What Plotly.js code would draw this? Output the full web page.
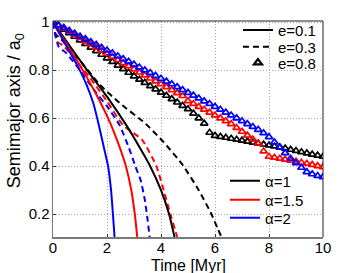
<!DOCTYPE html>
<html>
<head>
<meta charset="utf-8">
<script src="https://cdn.plot.ly/plotly-3.0.1.min.js"></script>
<style>html,body{margin:0;padding:0;background:#fff}#chart{width:358px;height:273px}</style>
</head>
<body>
<div id="chart"></div>
<script>
// ---- data ----
// e = 0.1 (solid)
const t_a1_e01 = [0, 0.5, 1.2, 2.0, 2.72, 3.2, 3.6, 4.0, 4.3, 4.5];
const a_a1_e01 = [1.0, 0.92, 0.81, 0.69, 0.57, 0.48, 0.40, 0.30, 0.20, 0.105];
const t_a15_e01 = [0, 0.5, 1.1, 1.6, 2.1, 2.4, 2.7, 2.9, 3.03, 3.12];
const a_a15_e01 = [1.0, 0.91, 0.80, 0.70, 0.585, 0.50, 0.40, 0.30, 0.20, 0.105];
const t_a2_e01 = [0, 0.5, 0.9, 1.24, 1.5, 1.7, 1.9, 2.04, 2.15, 2.22, 2.28];
const a_a2_e01 = [1.0, 0.90, 0.82, 0.74, 0.66, 0.57, 0.47, 0.40, 0.30, 0.20, 0.105];
// e = 0.3 (dashed)
const t_a1_e03 = [0, 0.1, 0.25, 1.0, 1.73, 2.5, 3.4, 4.1, 4.81, 5.4, 5.87, 6.1, 6.24];
const a_a1_e03 = [1.0, 0.95, 0.935, 0.84, 0.74, 0.66, 0.58, 0.50, 0.404, 0.30, 0.20, 0.14, 0.105];
const t_a15_e03 = [0, 0.15, 0.4, 1.36, 2.0, 2.6, 3.3, 3.83, 4.1, 4.35, 4.6];
const a_a15_e03 = [1.0, 0.92, 0.90, 0.77, 0.67, 0.57, 0.51, 0.40, 0.30, 0.20, 0.105];
const t_a2_e03 = [0, 0.2, 0.5, 1.0, 1.5, 2.0, 2.47, 2.8, 3.05, 3.25, 3.4, 3.5, 3.58];
const a_a2_e03 = [1.0, 0.90, 0.87, 0.80, 0.72, 0.65, 0.57, 0.48, 0.40, 0.34, 0.26, 0.18, 0.105];
// e = 0.8 (triangles), sampled every 0.2 Myr
const t_e08 = [0,0.2,0.4,0.6,0.8,1.0,1.2,1.4,1.6,1.8,2.0,2.2,2.4,2.6,2.8,3.0,3.2,3.4,3.6,3.8,4.0,4.2,4.4,4.6,4.8,5.0,5.2,5.4,5.6,5.8,6.0,6.2,6.4,6.6,6.8,7.0,7.2,7.4,7.6,7.8,8.0,8.2,8.4,8.6,8.8,9.0,9.2,9.4,9.6,9.8,10.0];
const a_a1_e08 = [1.000,0.985,0.970,0.955,0.940,0.925,0.910,0.895,0.880,0.865,0.850,0.835,0.820,0.805,0.790,0.775,0.761,0.748,0.734,0.721,0.707,0.694,0.680,0.666,0.652,0.638,0.620,0.600,0.578,0.540,0.527,0.523,0.519,0.515,0.511,0.507,0.503,0.499,0.495,0.491,0.487,0.483,0.479,0.474,0.469,0.464,0.459,0.454,0.449,0.445,0.440];
const a_a15_e08 = [1.000,0.987,0.974,0.961,0.948,0.935,0.921,0.908,0.895,0.882,0.869,0.856,0.843,0.830,0.817,0.804,0.791,0.779,0.766,0.754,0.742,0.730,0.717,0.705,0.693,0.672,0.660,0.648,0.636,0.624,0.612,0.600,0.588,0.576,0.560,0.544,0.528,0.512,0.494,0.462,0.440,0.436,0.432,0.428,0.424,0.420,0.415,0.411,0.406,0.401,0.397];
const a_a2_e08 = [1.000,0.988,0.977,0.965,0.953,0.941,0.930,0.918,0.906,0.894,0.883,0.871,0.859,0.847,0.836,0.824,0.812,0.800,0.789,0.777,0.765,0.753,0.742,0.730,0.718,0.706,0.695,0.683,0.671,0.660,0.648,0.636,0.624,0.612,0.600,0.588,0.576,0.564,0.552,0.538,0.522,0.500,0.478,0.455,0.432,0.413,0.394,0.376,0.367,0.360,0.355];

const eLabels = ['e=0.1', 'e=0.3', 'e=0.8'];
const alphaLabels = ['\u03b1=1', '\u03b1=1.5', '\u03b1=2'];
const xTicks = [0, 2, 4, 6, 8, 10];
const yTicks = [0.2, 0.4, 0.6, 0.8, 1];

const colors = ['#000000', '#ff0000', '#0000ff'];
const DASH = '6px,4px';

function lineTrace(x, y, color, dash) {
  return {x: x, y: y, type: 'scatter', mode: 'lines', showlegend: false, hoverinfo: 'skip',
    line: {color: color, width: 2, dash: dash, shape: 'spline', smoothing: 0.5}};
}
function triTrace(x, y, color) {
  return {x: x, y: y, type: 'scatter', mode: 'markers', showlegend: false, hoverinfo: 'skip',
    marker: {symbol: 'triangle-up-open', size: 6.5, color: color, line: {color: color, width: 1.7}}};
}

const traces = [
  triTrace(t_e08, a_a1_e08, colors[0]),
  triTrace(t_e08, a_a15_e08, colors[1]),
  triTrace(t_e08, a_a2_e08, colors[2]),
  lineTrace(t_a1_e03, a_a1_e03, colors[0], DASH),
  lineTrace(t_a15_e03, a_a15_e03, colors[1], DASH),
  lineTrace(t_a2_e03, a_a2_e03, colors[2], DASH),
  lineTrace(t_a1_e01, a_a1_e01, colors[0], 'solid'),
  lineTrace(t_a15_e01, a_a15_e01, colors[1], 'solid'),
  lineTrace(t_a2_e01, a_a2_e01, colors[2], 'solid'),
  // legend entries (e), one legend each for exact placement
  {x: [null], y: [null], type: 'scatter', mode: 'lines', name: eLabels[0], legend: 'legend', line: {color: '#000', width: 2}},
  {x: [null], y: [null], type: 'scatter', mode: 'lines', name: eLabels[1], legend: 'legend2', line: {color: '#000', width: 2, dash: DASH}},
  {x: [null], y: [null], type: 'scatter', mode: 'markers', name: eLabels[2], legend: 'legend3', marker: {symbol: 'triangle-up-open', size: 7, color: '#000', line: {color: '#000', width: 2.2}}},
  // legend entries (alpha)
  {x: [null], y: [null], type: 'scatter', mode: 'lines', name: alphaLabels[0], legend: 'legend4', line: {color: colors[0], width: 2}},
  {x: [null], y: [null], type: 'scatter', mode: 'lines', name: alphaLabels[1], legend: 'legend5', line: {color: colors[1], width: 2}},
  {x: [null], y: [null], type: 'scatter', mode: 'lines', name: alphaLabels[2], legend: 'legend6', line: {color: colors[2], width: 2}}
];

const FONT = 'Liberation Sans, Arial, Helvetica, sans-serif';
function leg(x, y) {
  return {x: x, y: y, xanchor: 'left', yanchor: 'middle', bgcolor: 'rgba(0,0,0,0)', borderwidth: 0,
    font: {size: 15, family: FONT, color: '#000'}, itemwidth: 30};
}
const layout = {
  width: 358, height: 273,
  margin: {l: 53, r: 35, t: 21, b: 36, pad: 0},
  paper_bgcolor: '#fff', plot_bgcolor: '#fff',
  font: {family: FONT, size: 15, color: '#000'},
  showlegend: true,
  xaxis: {
    range: [0, 10], tickvals: xTicks, ticktext: xTicks.map(String),
    showgrid: true, gridcolor: '#a8a8a8', griddash: '1px,2px', gridwidth: 1,
    zeroline: false, showline: true, linecolor: '#7a7a7a', linewidth: 1.5,
    ticks: 'inside', ticklen: 3, tickcolor: '#333', tickfont: {size: 15}, ticklabelstandoff: -4
  },
  yaxis: {
    range: [0.105, 1.005], tickvals: yTicks, ticktext: yTicks.map(String),
    showgrid: true, gridcolor: '#a8a8a8', griddash: '1px,2px', gridwidth: 1,
    zeroline: false, showline: true, linecolor: '#7a7a7a', linewidth: 1.5,
    ticks: 'inside', ticklen: 3, tickcolor: '#333', tickfont: {size: 15}, ticklabelstandoff: -1
  },
  annotations: [
    {text: 'Time [Myr]', xref: 'paper', yref: 'paper', x: 0.5, y: -0.13, xanchor: 'center', yanchor: 'middle',
      showarrow: false, font: {size: 16}},
    {text: 'Semimajor axis / a<sub>0</sub>', xref: 'paper', yref: 'paper', x: -0.14, y: 0.583, xanchor: 'center', yanchor: 'middle',
      textangle: -90, showarrow: false, font: {size: 18}}
  ],
  legend: leg(0.685, 0.957),
  legend2: leg(0.685, 0.880),
  legend3: leg(0.685, 0.806),
  legend4: leg(0.637, 0.259),
  legend5: leg(0.637, 0.171),
  legend6: leg(0.637, 0.088),
  shapes: [
    {type: 'line', xref: 'paper', yref: 'paper', x0: 0, x1: 1, y0: 1, y1: 1, line: {color: '#222', width: 1}},
    {type: 'line', xref: 'paper', yref: 'paper', x0: 1, x1: 1, y0: 0, y1: 1, line: {color: '#222', width: 1}}
  ]
};

Plotly.newPlot('chart', traces, layout, {staticPlot: true, displayModeBar: false});
</script>
</body>
</html>
